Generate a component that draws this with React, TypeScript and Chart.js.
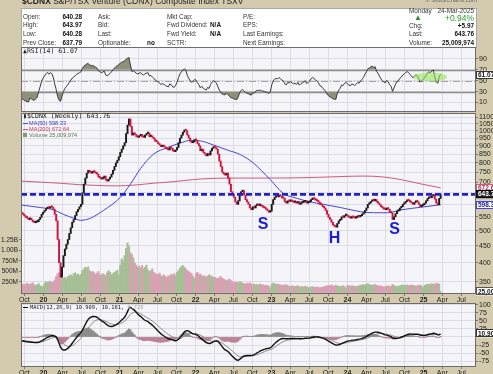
import React, { useEffect, useRef } from 'react';
import { Chart, registerables } from 'chart.js';

Chart.register(...registerables);

const FONT = '"Liberation Sans", Arial, sans-serif';
const MONO = '"DejaVu Sans Mono", "Liberation Mono", monospace';

// ---------------- DATA ----------------
const START = '2019-09-16';
// weekly closes before the visible window, used only to warm up RSI / MACD
const WARMUP_CLOSES = [625, 620, 618, 615, 612, 610, 605, 600, 598, 595, 598, 600, 603, 600, 598, 595, 590, 588, 585, 580, 572, 575, 570, 568, 572, 570];
// weekly closes, 2019-09-16 .. 2025-03-24
const CLOSES = [
  565, 560, 555, 548, 545, 540, 545, 538, 532, 528, 530, 532, 540, 548, 560, 568,
  575, 582, 588, 584, 590, 588, 580, 560, 535, 470, 400, 362, 388, 420, 440, 455, 470,
  490, 510, 530, 540, 555, 570, 580, 590, 600, 650, 690, 720, 745, 760, 750, 745, 755, 750,
  745, 740, 725, 720, 715, 720, 730, 710, 705, 715, 725, 740, 760, 780, 800, 815, 835,
  860, 880, 900, 920, 980, 1040, 1085, 1030, 970, 985, 975, 960, 955, 965, 975, 960, 955,
  970, 980, 985, 960, 965, 955, 945, 930, 925, 915, 905, 895, 900, 895, 885, 880, 875, 890,
  885, 870, 865, 875, 890, 920, 950, 970, 990, 1005, 1000, 970, 950, 930, 920, 925, 940,
  935, 915, 900, 870, 880, 860, 850, 840, 855, 845, 870, 885, 895, 890, 880, 850, 810,
  780, 750, 740, 735, 745, 720, 690, 655, 645, 630, 610, 600, 615, 640, 655, 660, 640, 620,
  610, 600, 585, 578, 590, 585, 595, 600, 595, 598, 592, 588, 585, 580, 575, 568, 572,
  600, 620, 630, 635, 632, 640, 635, 628, 625, 610, 605, 615, 612, 618, 612, 608, 610,
  605, 612, 600, 605, 608, 610, 615, 605, 608, 612, 620, 625, 622, 618, 615, 610, 600, 598,
  590, 585, 575, 560, 548, 540, 530, 520, 515, 512, 525, 535, 540, 550, 548, 555, 558,
  552, 548, 545, 550, 548, 545, 548, 552, 550, 555, 560, 565, 575, 585, 600, 605, 612, 618,
  615, 620, 610, 605, 598, 590, 585, 580, 578, 585, 580, 570, 565, 540, 550, 562, 572,
  575, 585, 590, 600, 605, 612, 618, 615, 610, 605, 600, 608, 612, 610, 600, 590, 595, 598,
  605, 615, 625, 630, 628, 636, 642, 622, 605, 598, 625, 643.76,
];
// weekly volume, millions
const VOLUMES_M = [
  210, 190, 200, 180, 220, 200, 190, 210, 230, 180, 170, 190, 210, 160, 140, 150,
  220, 260, 240, 250, 270, 240, 250, 300, 380, 450, 470, 420, 330, 340, 360, 320, 380,
  400, 420, 380, 450, 470, 420, 440, 400, 430, 520, 560, 600, 580, 610, 520, 480, 500, 470,
  430, 460, 500, 420, 410, 450, 420, 400, 470, 520, 480, 430, 450, 480, 500, 530, 420,
  650, 800, 750, 880, 1050, 1180, 1100, 950, 900, 820, 700, 650, 600, 620, 580, 640, 560,
  600, 650, 540, 500, 520, 560, 480, 450, 430, 420, 460, 400, 380, 420, 380, 360, 400, 390,
  430, 410, 450, 400, 480, 520, 580, 620, 640, 600, 560, 520, 500, 470, 450, 380, 330,
  450, 480, 420, 440, 400, 380, 400, 360, 390, 420, 400, 380, 360, 360, 340, 330, 350,
  380, 340, 320, 300, 280, 300, 320, 280, 260, 220, 250, 240, 230, 260, 240, 220, 210, 200,
  220, 210, 230, 200, 190, 200, 180, 190, 180, 200, 190, 180, 170, 160, 170, 150, 110,
  200, 220, 210, 190, 200, 190, 180, 170, 180, 170, 190, 160, 150, 140, 160, 150, 140,
  150, 160, 140, 130, 140, 130, 150, 140, 120, 110, 130, 140, 120, 130, 120, 130, 110, 120,
  130, 140, 150, 160, 170, 160, 180, 150, 160, 170, 160, 150, 140, 150, 160, 140, 100,
  170, 160, 150, 160, 150, 150, 140, 150, 160, 170, 180, 190, 170, 200, 210, 190, 180, 170,
  180, 190, 170, 160, 150, 160, 140, 130, 140, 150, 160, 140, 150, 190, 170, 150, 140,
  150, 160, 170, 180, 160, 170, 180, 160, 170, 180, 170, 160, 150, 160, 170, 180, 150, 110,
  170, 180, 200, 190, 200, 210, 190, 200, 220, 210, 200, 25,
];
const MA50_DATES = ['2019-09-16', '2019-12-16', '2020-02-20', '2020-04-05', '2020-05-25', '2020-06-27', '2020-08-14', '2020-10-15', '2021-01-05', '2021-02-23', '2021-04-12', '2021-06-13', '2021-08-19', '2021-10-20', '2021-12-07', '2022-01-24', '2022-03-27', '2022-06-02', '2022-08-03', '2022-10-05', '2022-12-26', '2023-02-26', '2023-05-05', '2023-07-07', '2023-09-07', '2023-11-28', '2024-03-04', '2024-05-06', '2024-07-12', '2024-09-13', '2024-12-19', '2025-03-24'];
const MA50_VALUES = [597, 587, 577, 560, 545, 537, 545, 575, 630, 692, 770, 850, 890, 918, 935, 932, 906, 875, 848, 800, 712, 648, 625, 610, 600, 587, 570, 566, 566, 577, 588, 598.33];
const MA200_DATES = ['2019-09-16', '2019-12-16', '2020-03-16', '2020-06-16', '2020-09-16', '2020-12-16', '2021-03-16', '2021-06-16', '2021-09-16', '2021-12-16', '2022-03-16', '2022-06-16', '2022-12-16', '2023-06-16', '2023-12-16', '2024-03-16', '2024-06-16', '2024-09-16', '2024-12-16', '2025-03-24'];
const MA200_VALUES = [705, 700, 695, 688, 684, 682, 686, 695, 702, 712, 718, 720, 720, 722, 728, 730, 726, 712, 692, 672.64];
const NECKLINE_DATES = ['2019-09-15', '2025-09-10'];
const NECKLINE_PRICE = 643;
const PATTERN_LABELS = ['S', 'H', 'S'];
const PATTERN_DATES = ['2022-11-22', '2023-10-31', '2024-08-15'];
const PATTERN_PRICES = [523, 474, 505];
const HIGHLIGHT_DATES = ['2024-11-12', '2025-04-24'];
const HIGHLIGHT_RSI = [49, 65];
const TICK_DATES = ['2019-10-01', '2020-01-01', '2020-04-01', '2020-07-01', '2020-10-01', '2021-01-01', '2021-04-01', '2021-07-01', '2021-10-01', '2022-01-01', '2022-04-01', '2022-07-01', '2022-10-01', '2023-01-01', '2023-04-01', '2023-07-01', '2023-10-01', '2024-01-01', '2024-04-01', '2024-07-01', '2024-10-01', '2025-01-01', '2025-04-01', '2025-07-01'];
const TICK_LABELS = ['Oct', '20', 'Apr', 'Jul', 'Oct', '21', 'Apr', 'Jul', 'Oct', '22', 'Apr', 'Jul', 'Oct', '23', 'Apr', 'Jul', 'Oct', '24', 'Apr', 'Jul', 'Oct', '25', 'Apr', 'Jul'];
const PRICE_TICKS = [350, 400, 450, 500, 550, 600, 650, 700, 750, 800, 850, 900, 950, 1000, 1050, 1100];
const PRICE_TICKS_UNLABELED = [600, 650];
const VOLUME_TICKS = [250, 500, 750, 1000, 1250];
const VOLUME_TICK_LABELS = ['250M', '500M', '750M', '1.00B', '1.25B'];
const RSI_TICKS = [10, 30, 50, 70, 90];
const MACD_TICKS = [-75, -50, -25, 0, 25, 50, 75, 100];
const LAST = { price: 643.76, ma50: 598.33, ma200: 672.64, rsi: 61.07, macd: 10.909, signal: 10.181, hist: 0.728, volume: 25.009974 };

// ---------------- STYLE ----------------
const TAN = '#d4caae';
const PANEL = '#f4f4f9';
const GRID = '#dcdce6';
const BORDER = '#6c6c6c';
const UP = '#1a1a1a';
const DN = '#d2143c';
const VOL_UP = '#a6bf95';
const VOL_DN = '#d9a0b3';
const BLUE = '#4646d4';
const PINK = '#cf5c78';
const RSI_FILL = '#8f8f7a';
const X_MIN = -1;
const X_MAX = 2186;

const toDay = (s: string) => Math.round((Date.parse(s + 'T00:00:00Z') - Date.parse(START + 'T00:00:00Z')) / 86400000);

function ema(values: number[], n: number) {
  const k = 2 / (n + 1);
  const out: number[] = [];
  let e = values[0];
  values.forEach((v, i) => { e = i === 0 ? v : v * k + e * (1 - k); out.push(e); });
  return out;
}

function computeRsi(v: number[], n: number) {
  const out: (number | null)[] = new Array(v.length).fill(null);
  let g = 0, l = 0;
  for (let i = 1; i <= n; i++) { const ch = v[i] - v[i - 1]; g += Math.max(ch, 0); l += Math.max(-ch, 0); }
  g /= n; l /= n;
  out[n] = l === 0 ? 100 : 100 - 100 / (1 + g / l);
  for (let i = n + 1; i < v.length; i++) {
    const ch = v[i] - v[i - 1];
    g = (g * (n - 1) + Math.max(ch, 0)) / n;
    l = (l * (n - 1) + Math.max(-ch, 0)) / n;
    out[i] = l === 0 ? 100 : 100 - 100 / (1 + g / l);
  }
  return out;
}

const weekX = CLOSES.map((_, i) => i * 7);
const OPENS = CLOSES.map((c, i) => (i === 0 ? WARMUP_CLOSES[WARMUP_CLOSES.length - 1] : CLOSES[i - 1]));
const IS_UP = CLOSES.map((c, i) => c >= OPENS[i]);

function tickFont(ctx: any) {
  const lab = ctx && ctx.tick ? String(ctx.tick.label) : '';
  return { size: 7, family: FONT, weight: /^\d\d$/.test(lab) ? 'bold' : 'normal' } as any;
}

function xScale(showLabels: boolean, h: number) {
  return {
    type: 'linear', min: X_MIN, max: X_MAX, offset: false,
    afterBuildTicks: (s: any) => { s.ticks = TICK_DATES.map((d) => ({ value: toDay(d) })); },
    afterFit: (s: any) => { s.height = h; s.paddingLeft = 0; s.paddingRight = 0; s.paddingTop = 0; s.paddingBottom = 0; },
    grid: { color: GRID, offset: false, drawTicks: showLabels, tickLength: 2, tickColor: '#777' },
    border: { display: false },
    ticks: {
      display: showLabels, autoSkip: false, maxRotation: 0, minRotation: 0, padding: 0, color: '#222',
      font: tickFont, callback: (_v: any, i: number) => TICK_LABELS[i],
    },
  } as any;
}

function rightScale(min: number, max: number, ticks: number[], label: (v: number) => string, type = 'linear') {
  return {
    type, position: 'right', min, max,
    afterBuildTicks: (s: any) => { s.ticks = ticks.map((v) => ({ value: v })); },
    afterFit: (s: any) => { s.width = 17; s.paddingTop = 0; s.paddingBottom = 0; },
    grid: { color: GRID, tickLength: 2, tickColor: '#777' },
    border: { display: false },
    ticks: { autoSkip: false, padding: 1, color: '#222', font: { size: 7, family: FONT }, callback: (v: any) => label(Number(v)) },
  } as any;
}

const panelPlugin = {
  id: 'panel',
  beforeDraw(chart: any) {
    const { ctx, chartArea: a } = chart;
    ctx.save();
    ctx.fillStyle = PANEL;
    ctx.fillRect(a.left, a.top, a.right - a.left, a.bottom - a.top);
    ctx.restore();
  },
  afterDraw(chart: any) {
    const { ctx, chartArea: a } = chart;
    ctx.save();
    ctx.strokeStyle = BORDER;
    ctx.lineWidth = 1;
    ctx.strokeRect(Math.round(a.left) + 0.5, Math.round(a.top) + 0.5, Math.round(a.right - a.left) - 1, Math.round(a.bottom - a.top) - 1);
    ctx.restore();
  },
};

function axisBox(ctx: any, x: number, y: number, text: string, fill: string, stroke: string, color: string) {
  ctx.save();
  ctx.fillStyle = fill;
  ctx.fillRect(x, y - 4, 24, 8);
  ctx.strokeStyle = stroke;
  ctx.lineWidth = 1;
  ctx.strokeRect(x + 0.5, Math.round(y) - 3.5, 24, 7);
  ctx.fillStyle = color;
  ctx.font = `bold 6.5px ${FONT}`;
  ctx.textBaseline = 'middle';
  ctx.fillText(text, x + 2, y + 0.5);
  ctx.restore();
}

const common = {
  responsive: false, animation: false, devicePixelRatio: 1, events: [],
  plugins: { legend: { display: false }, tooltip: { enabled: false } },
} as any;

function rsiConfig() {
  const all = [...WARMUP_CLOSES, ...CLOSES];
  const r = computeRsi(all, 14).slice(WARMUP_CLOSES.length);
  const pts = r.map((v, i) => ({ x: weekX[i], y: v as number }));
  const marks = {
    id: 'rsiMarks',
    beforeDatasetsDraw(chart: any) {
      const { ctx, chartArea: a } = chart;
      const ys = chart.scales.y;
      ctx.save();
      [70, 30].forEach((lv) => {
        const y = Math.round(ys.getPixelForValue(lv)) + 0.5;
        ctx.strokeStyle = '#8e8e8e'; ctx.lineWidth = 1.6; ctx.setLineDash([]);
        ctx.beginPath(); ctx.moveTo(a.left, y); ctx.lineTo(a.right, y); ctx.stroke();
      });
      const y5 = Math.round(ys.getPixelForValue(50)) + 0.5;
      ctx.strokeStyle = '#a4a4a4'; ctx.lineWidth = 1; ctx.setLineDash([7, 2, 1, 2]);
      ctx.beginPath(); ctx.moveTo(a.left, y5); ctx.lineTo(a.right, y5); ctx.stroke();
      ctx.restore();
    },
    afterDatasetsDraw(chart: any) {
      const { ctx } = chart;
      const xs = chart.scales.x, ys = chart.scales.y;
      const x0 = xs.getPixelForValue(toDay(HIGHLIGHT_DATES[0])), x1 = xs.getPixelForValue(toDay(HIGHLIGHT_DATES[1]));
      const y0 = ys.getPixelForValue(HIGHLIGHT_RSI[0]), y1 = ys.getPixelForValue(HIGHLIGHT_RSI[1]);
      ctx.save();
      ctx.fillStyle = 'rgba(150, 228, 90, 0.6)';
      ctx.beginPath();
      ctx.ellipse((x0 + x1) / 2, (y0 + y1) / 2, Math.abs(x1 - x0) / 2, Math.abs(y1 - y0) / 2, 0, 0, Math.PI * 2);
      ctx.fill();
      ctx.restore();
    },
    afterDraw(chart: any) {
      const ys = chart.scales.y;
      axisBox(chart.ctx, chart.chartArea.right, ys.getPixelForValue(LAST.rsi), LAST.rsi.toFixed(2), '#ffffff', '#333', '#111');
    },
  };
  return {
    type: 'line',
    data: {
      datasets: [
        { data: pts, borderColor: '#3a3a3a', borderWidth: 1, pointRadius: 0, fill: { target: { value: 70 }, above: RSI_FILL, below: 'rgba(0,0,0,0)' } },
        { data: pts, borderColor: 'rgba(0,0,0,0)', borderWidth: 0, pointRadius: 0, fill: { target: { value: 30 }, above: 'rgba(0,0,0,0)', below: RSI_FILL } },
      ],
    },
    options: {
      ...common,
      layout: { padding: { left: 21, right: 0, top: 3, bottom: 2 } },
      scales: {
        x: xScale(false, 0),
        y: rightScale(-7.5, 112, RSI_TICKS, (v) => String(v)),
      },
    },
    plugins: [panelPlugin, marks],
  } as any;
}

function mainConfig() {
  const marks = {
    id: 'mainMarks',
    afterDatasetsDraw(chart: any) {
      const { ctx } = chart;
      const xs = chart.scales.x, ys = chart.scales.y;
      ctx.save();
      ctx.font = `bold 16px ${FONT}`;
      ctx.fillStyle = '#1c1cd2';
      ctx.textAlign = 'center';
      ctx.textBaseline = 'middle';
      PATTERN_LABELS.forEach((t, i) => ctx.fillText(t, xs.getPixelForValue(toDay(PATTERN_DATES[i])), ys.getPixelForValue(PATTERN_PRICES[i])));
      ctx.restore();
    },
    afterDraw(chart: any) {
      const { ctx, chartArea: a } = chart;
      const ys = chart.scales.y, yv = chart.scales.yVol;
      axisBox(ctx, a.right, ys.getPixelForValue(LAST.ma200), LAST.ma200.toFixed(2), '#ffffff', PINK, '#b03050');
      axisBox(ctx, a.right, ys.getPixelForValue(LAST.price), LAST.price.toFixed(2), '#222222', '#000', '#ffffff');
      axisBox(ctx, a.right, ys.getPixelForValue(LAST.ma50), LAST.ma50.toFixed(2), '#ffffff', BLUE, '#2020a0');
      axisBox(ctx, a.right, yv.getPixelForValue(LAST.volume), '25,009,974', '#ffffff', '#555', '#222');
    },
  };
  return {
    type: 'bar',
    data: {
      datasets: [
        {
          type: 'line', data: NECKLINE_DATES.map((d) => ({ x: toDay(d), y: NECKLINE_PRICE })), yAxisID: 'y',
          borderColor: '#2222cc', borderWidth: 2.6, borderDash: [6, 3], pointRadius: 0, order: 0,
        },
        {
          type: 'bar', data: weekX.map((x, i) => ({ x, y: [Math.min(OPENS[i], CLOSES[i]), Math.max(OPENS[i], CLOSES[i])] })),
          yAxisID: 'y', backgroundColor: IS_UP.map((u) => (u ? UP : DN)), barThickness: 1.3, minBarLength: 1.6, grouped: false, order: 1,
        },
        {
          type: 'line', data: MA50_DATES.map((d, i) => ({ x: toDay(d), y: MA50_VALUES[i] })), yAxisID: 'y',
          borderColor: BLUE, borderWidth: 1, pointRadius: 0, cubicInterpolationMode: 'monotone', order: 2,
        },
        {
          type: 'line', data: MA200_DATES.map((d, i) => ({ x: toDay(d), y: MA200_VALUES[i] })), yAxisID: 'y',
          borderColor: PINK, borderWidth: 1, pointRadius: 0, cubicInterpolationMode: 'monotone', order: 3,
        },
        {
          type: 'bar', data: weekX.map((x, i) => ({ x, y: VOLUMES_M[i] })), yAxisID: 'yVol',
          backgroundColor: IS_UP.map((u) => (u ? VOL_UP : VOL_DN)), barThickness: 1.5, grouped: false, order: 5,
        },
      ],
    },
    options: {
      ...common,
      layout: { padding: { left: 0, right: 0, top: 4, bottom: 0 } },
      scales: {
        x: xScale(true, 10),
        y: rightScale(322, 1131, PRICE_TICKS, (v) => (PRICE_TICKS_UNLABELED.includes(v) ? '' : String(v)), 'logarithmic'),
        yVol: {
          type: 'linear', position: 'left', min: -36, max: 4274,
          afterBuildTicks: (s: any) => { s.ticks = VOLUME_TICKS.map((v) => ({ value: v })); },
          afterFit: (s: any) => { s.width = 21; s.paddingTop = 0; s.paddingBottom = 0; },
          grid: { drawOnChartArea: false, tickLength: 2, tickColor: '#777' },
          border: { display: false },
          ticks: { autoSkip: false, padding: 1, color: '#222', font: { size: 6.5, family: FONT }, callback: (_v: any, i: number) => VOLUME_TICK_LABELS[i] },
        },
      },
    },
    plugins: [panelPlugin, marks],
  } as any;
}

function macdConfig() {
  const all = [...WARMUP_CLOSES, ...CLOSES];
  const e12 = ema(all, 12), e26 = ema(all, 26);
  const macdAll = e12.map((v, i) => v - e26[i]);
  const sigAll = ema(macdAll, 9);
  const off = WARMUP_CLOSES.length;
  const macd = macdAll.slice(off), sig = sigAll.slice(off);
  const hist = macd.map((v, i) => v - sig[i]);
  const marks = {
    id: 'macdMarks',
    afterDraw(chart: any) {
      const ys = chart.scales.y;
      axisBox(chart.ctx, chart.chartArea.right, ys.getPixelForValue(LAST.macd), LAST.macd.toFixed(3), '#ffffff', '#333', '#111');
    },
  };
  return {
    type: 'bar',
    data: {
      datasets: [
        { type: 'line', data: macd.map((v, i) => ({ x: weekX[i], y: v })), borderColor: '#111', borderWidth: 1.4, pointRadius: 0, order: 0 },
        { type: 'line', data: sig.map((v, i) => ({ x: weekX[i], y: v })), borderColor: '#8a8a8a', borderWidth: 1, pointRadius: 0, order: 1 },
        {
          type: 'bar', data: hist.map((v, i) => ({ x: weekX[i], y: v })), backgroundColor: hist.map((v) => (v >= 0 ? '#8c8c8c' : '#b98495')),
          barThickness: 1.5, grouped: false, order: 2,
        },
      ],
    },
    options: {
      ...common,
      layout: { padding: { left: 21, right: 0, top: 4, bottom: 0 } },
      scales: {
        x: xScale(true, 7),
        y: rightScale(-93, 105, MACD_TICKS, (v) => (v === 0 ? '' : String(v))),
      },
    },
    plugins: [panelPlugin, marks],
  } as any;
}

function T(props: { x: number; y: number; right?: boolean; size?: number; bold?: boolean; color?: string; family?: string; children: React.ReactNode }) {
  const size = props.size ?? 6.4;
  const st: React.CSSProperties = {
    position: 'absolute', top: props.y - size * 0.6, lineHeight: `${size * 1.2}px`, fontSize: size,
    fontWeight: props.bold ? 'bold' : 'normal', color: props.color ?? '#333', whiteSpace: 'nowrap',
    fontFamily: props.family ?? FONT,
  };
  if (props.right) st.right = 493 - props.x; else st.left = props.x;
  return <span style={st}>{props.children}</span>;
}

export default function App() {
  const rsiRef = useRef<HTMLCanvasElement>(null);
  const mainRef = useRef<HTMLCanvasElement>(null);
  const macdRef = useRef<HTMLCanvasElement>(null);

  useEffect(() => {
    const charts = [
      new Chart(rsiRef.current as HTMLCanvasElement, rsiConfig()),
      new Chart(mainRef.current as HTMLCanvasElement, mainConfig()),
      new Chart(macdRef.current as HTMLCanvasElement, macdConfig()),
    ];
    return () => charts.forEach((c) => c.destroy());
  }, []);

  const rows = [16.5, 25, 33.8, 42.6];
  const cv = (top: number): React.CSSProperties => ({ position: 'absolute', left: 0, top, display: 'block' });

  return (
    <div style={{ position: 'fixed', left: 0, top: 0, width: 493, height: 374, background: TAN, overflow: 'hidden', fontFamily: FONT }}>
      <div style={{ position: 'absolute', left: 21, top: 8, width: 454, height: 38, background: '#fff', border: '1px solid #a8a8a8' }} />
      <canvas ref={rsiRef} width={493} height={70} style={cv(44)} />
      <canvas ref={mainRef} width={493} height={195} style={cv(109)} />
      <canvas ref={macdRef} width={493} height={75} style={cv(299)} />

      <div style={{ position: 'absolute', left: 0, top: 0, width: 493, height: 374, pointerEvents: 'none' }}>
        <T x={22} y={1} size={8.5} color="#222"><b>$CDNX</b> S&amp;P/TSX Venture (CDNX) Composite Index TSXV</T>
        <T x={477} y={1} right size={6} color="#666">© StockCharts.com</T>

        <T x={23} y={rows[0]}>Open:</T>
        <T x={23} y={rows[1]}>High:</T>
        <T x={23} y={rows[2]}>Low:</T>
        <T x={23} y={rows[3]}>Prev Close:</T>
        <T x={82} y={rows[0]} right bold color="#111">640.28</T>
        <T x={82} y={rows[1]} right bold color="#111">643.97</T>
        <T x={82} y={rows[2]} right bold color="#111">640.28</T>
        <T x={82} y={rows[3]} right bold color="#111">637.79</T>

        <T x={98} y={rows[0]}>Ask:</T>
        <T x={98} y={rows[1]}>Bid:</T>
        <T x={98} y={rows[2]}>Last:</T>
        <T x={98} y={rows[3]}>Optionable:</T>
        <T x={147} y={rows[3]} bold color="#111">no</T>

        <T x={167} y={rows[0]}>Mkt Cap:</T>
        <T x={167} y={rows[1]}>Fwd Dividend:</T>
        <T x={167} y={rows[2]}>Fwd Yield:</T>
        <T x={167} y={rows[3]}>SCTR:</T>
        <T x={221} y={rows[1]} right bold color="#111">N/A</T>
        <T x={221} y={rows[2]} right bold color="#111">N/A</T>

        <T x={243} y={rows[0]}>P/E:</T>
        <T x={243} y={rows[1]}>EPS:</T>
        <T x={243} y={rows[2]}>Last Earnings:</T>
        <T x={243} y={rows[3]}>Next Earnings:</T>

        <T x={409} y={11}>Monday</T>
        <T x={474} y={11} right>24-Mar-2025</T>
        <T x={414} y={18} size={8} color="#2e8b2e">▲</T>
        <T x={474} y={18} right size={8.5} color="#2e9a2e">+0.94%</T>
        <T x={409} y={rows[1] + 0.5}>Chg:</T>
        <T x={474} y={rows[1] + 0.5} right bold color="#111">+5.97</T>
        <T x={409} y={rows[2]}>Last:</T>
        <T x={474} y={rows[2]} right bold color="#111">643.76</T>
        <T x={409} y={rows[3]}>Volume:</T>
        <T x={474} y={rows[3]} right bold color="#111">25,009,974</T>

        <T x={23} y={52} size={6.5} family={MONO} color="#222">▲RSI(14) 61.07</T>

        <T x={23} y={116.5} size={6.6} family={MONO} color="#222">▮$CDNX (Weekly) 643.76</T>
        <span style={{ position: 'absolute', left: 23, top: 122.5, width: 5, height: 1.5, background: BLUE }} />
        <T x={29} y={123} size={5.6} color="#3a3ac8">MA(50) 598.33</T>
        <span style={{ position: 'absolute', left: 23, top: 128.5, width: 5, height: 1.5, background: PINK }} />
        <T x={29} y={129} size={5.6} color="#c04060">MA(200) 672.64</T>
        <span style={{ position: 'absolute', left: 23, top: 132.5, width: 4, height: 4, background: '#7d9c6a' }} />
        <T x={29} y={135} size={5.6} color="#5a7a4a">Volume 25,009,974</T>

        <span style={{ position: 'absolute', left: 23, top: 306.5, width: 5, height: 1.5, background: '#111' }} />
        <T x={30} y={307} size={5.4} family={MONO} color="#222">MACD(12,26,9) 10.909, 10.181, <span style={{ color: '#aaa' }}>0.728</span></T>
      </div>
    </div>
  );
}
